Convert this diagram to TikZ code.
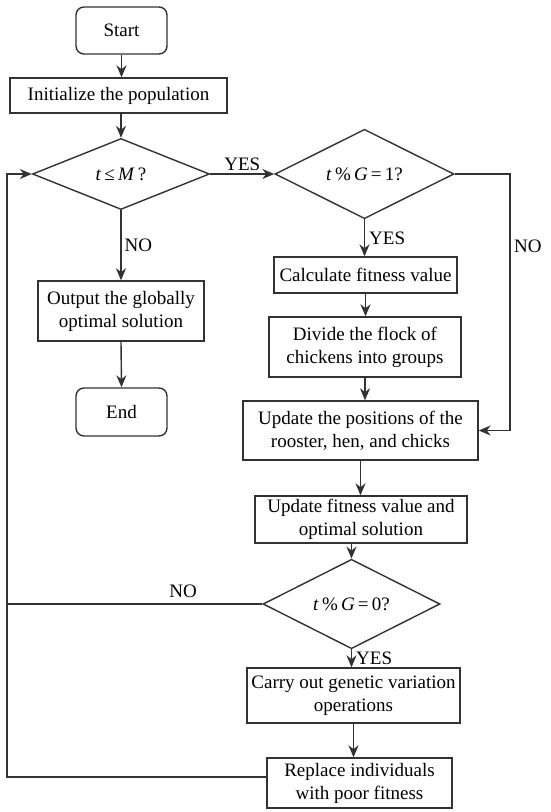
\documentclass[tikz,border=0pt]{standalone}
\usepackage{fontspec}
\setmainfont{Liberation Serif}
\usepackage{xcolor}
\usetikzlibrary{shapes.geometric,arrows.meta}
\definecolor{linegray}{RGB}{50,50,50}

\begin{document}
\begin{tikzpicture}[x=1pt,y=-1pt,>={Stealth[length=12pt,width=10pt]},
  line width=1.4pt,draw=linegray,
  every node/.style={font=\fontsize{19}{23}\selectfont},
  proc/.style={draw=linegray,rectangle,align=center,inner sep=0pt},
  term/.style={draw=linegray,rectangle,rounded corners=8pt,inner sep=0pt},
  decide/.style={draw=linegray,diamond,inner sep=0pt,minimum width=177pt,minimum height=71pt}]
  \useasboundingbox (0,0) rectangle (550,812);
  % left column
  \node[term,minimum width=91pt,minimum height=47pt] (start) at (121.5,30.5) {Start};
  \node[proc,minimum width=217pt,minimum height=35pt] (init) at (118.5,95.5) {Initialize the population};
  \node[decide] (c1) at (121,174) {\textit{t}\,≤\,\textit{M}\,?};
  \node[proc,minimum width=166pt,minimum height=60pt] (output) at (121,311) {Output the globally\\optimal solution};
  \node[term,minimum width=91pt,minimum height=48pt] (stop) at (121.5,412) {End};
  % right column
  \node[decide,minimum width=179pt] (c2) at (364.5,174) {\textit{t}\,\%\,\textit{G}\,=\,1?};
  \node[proc,minimum width=183pt,minimum height=36pt] (calc) at (365.5,275) {Calculate fitness value};
  \node[proc,minimum width=192pt,minimum height=60pt] (divide) at (365,347) {Divide the flock of\\chickens into groups};
  \node[proc,minimum width=235pt,minimum height=59pt] (upos) at (360.5,430.5) {Update the positions of the\\rooster, hen, and chicks};
  \node[proc,minimum width=212pt,minimum height=47pt] (ufit) at (361,519.5) {Update fitness value and\\optimal solution};
  \node[decide] (c3) at (351.5,604) {\textit{t}\,\%\,\textit{G}\,=\,0?};
  \node[proc,minimum width=213pt,minimum height=55pt] (carry) at (353.5,695.5) {Carry out genetic variation\\operations};
  \node[proc,minimum width=185pt,minimum height=50pt] (repl) at (359.5,783) {Replace individuals\\with poor fitness};
  \coordinate (rgt) at (510,174);
  \coordinate (lbot) at (7,777);
  \coordinate (ltop) at (7,174);
  % connectors
  \draw[->] (start.south) -- (start.south |- init.north);
  \draw[->] (init.south -| c1.north) -- (c1.north);
  \draw[->] (c1.east) -- node[above,inner sep=3pt]{YES} (c2.west);
  \draw[->] (c1.south) -- node[right,inner sep=3pt]{NO} (output.north);
  \draw[->] (output.south) -- (stop.north);
  \draw[->] (c2.south) -- node[right,inner sep=4pt]{YES} (c2.south |- calc.north);
  \draw[->] (calc.south) -- (calc.south |- divide.north);
  \draw[->] (divide.south) -- (divide.south |- upos.north);
  \draw[->] (c2.east) -- (rgt) |- node[pos=0.14,right]{NO} (upos.east);
  \draw[->] (upos.south) -- (upos.south |- ufit.north);
  \draw[->] (ufit.south -| c3.north) -- (c3.north);
  \draw[->] (c3.south) -- node[right,inner sep=4pt]{YES} (c3.south |- carry.north);
  \draw[->] (carry.south) -- (carry.south |- repl.north);
  \draw (c3.west) -- node[pos=0.31,above,inner sep=6pt]{NO} (c3.west -| lbot);
  \draw[->] (repl.west |- lbot) -- (lbot) -- (ltop) -- (c1.west);
\end{tikzpicture}
\end{document}
